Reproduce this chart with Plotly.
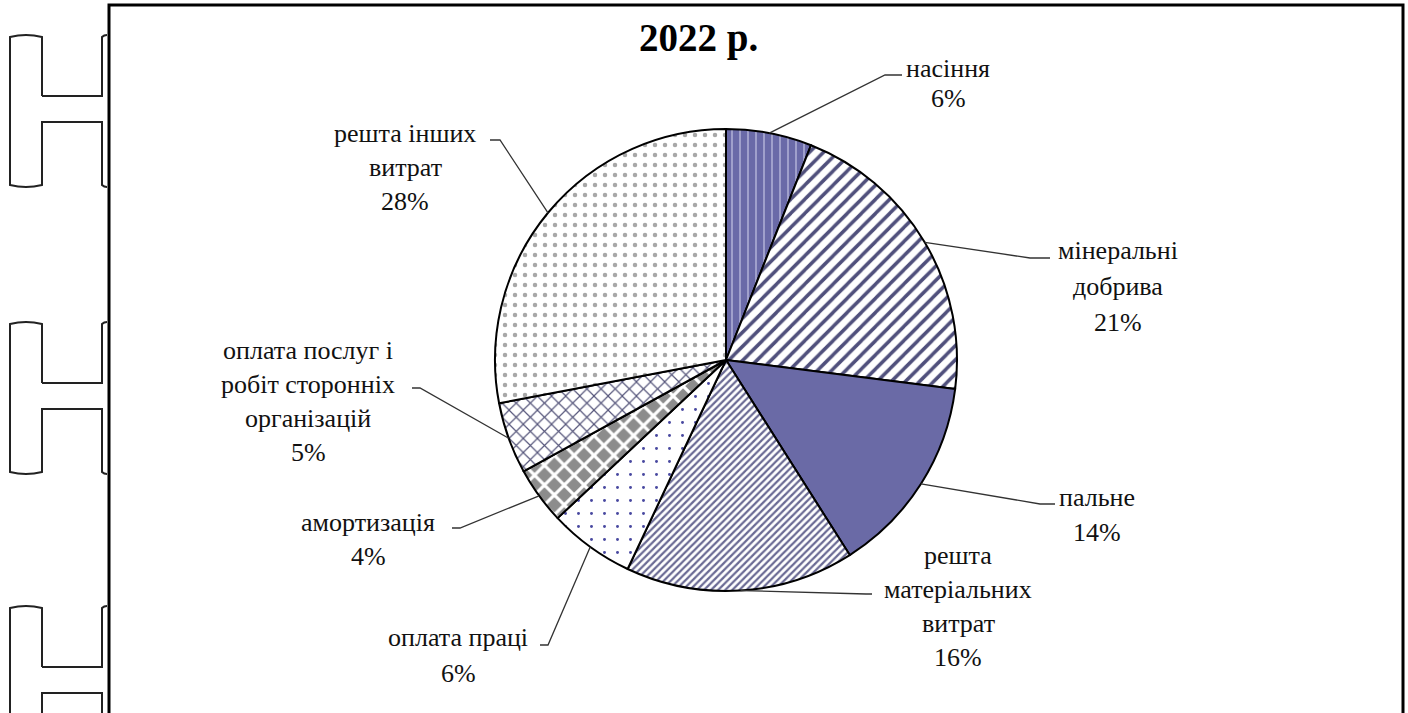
import math
import plotly.graph_objects as go

# ---- data ----
categories = ["насіння", "мінеральні добрива", "пальне", "решта матеріальних витрат",
              "оплата праці", "амортизація", "оплата послуг і робіт сторонніх організацій",
              "решта інших витрат"]
values = [6, 21, 14, 16, 6, 4, 5, 28]
label_lines = [
    ["насіння"],
    ["мінеральні", "добрива"],
    ["пальне"],
    ["решта", "матеріальних", "витрат"],
    ["оплата праці"],
    ["амортизація"],
    ["оплата послуг і", "робіт сторонніх", "організацій"],
    ["решта інших", "витрат"],
]
title_text = "2022 р."

# ---- styling / layout (pixel space) ----
W, H = 1408, 713
CX, CY, R = 726, 360, 231
FONT = "Liberation Serif"
LABEL_SIZE = 26

pat_shape = ["|", "/", "", "/", ".", "x", "x", "."]
pat_bg = ["#6a6aa8", "#ffffff", "#6a6aa6", "#ffffff", "#ffffff", "#8c8c8c", "#ffffff", "#ffffff"]
pat_fg = ["#c4c4e4", "#50507c", "#6a6aa6", "#6a6a94", "#4848a0", "#ffffff", "#55557a", "#a8a8a8"]
pat_size = [8, 10, 8, 5, 13, 14, 10, 10]
pat_sol = [0.15, 0.35, 0.3, 0.45, 0.04, 0.4, 0.22, 0.16]

# label placement: (center x, first line y, line spacing), leader elbow, leader end
label_pos = [
    (948, 68, 30),
    (1118, 250, 36),
    (1097, 497, 35),
    (958, 555, 34),
    (458, 637, 36),
    (368, 522, 34),
    (308, 350, 34),
    (405, 133, 34),
]
leader_pts = [
    ((885, 75), (902, 75)),
    ((1030, 258), (1050, 258)),
    ((1040, 504), (1055, 504)),
    ((866, 594), (872, 594)),
    ((548, 645), (540, 645)),
    ((460, 528), (452, 528)),
    ((420, 388), (412, 388)),
    ((500, 140), (490, 140)),
]

fig = go.Figure()
fig.add_trace(go.Pie(
    labels=categories, values=values, sort=False, direction="clockwise", rotation=0,
    textinfo="none", hoverinfo="label+percent",
    marker=dict(colors=pat_bg, line=dict(color="#000000", width=2),
                pattern=dict(shape=pat_shape, bgcolor=pat_bg, fgcolor=pat_fg,
                             size=pat_size, solidity=pat_sol, fillmode="replace")),
    domain=dict(x=[(CX - R) / W, (CX + R) / W], y=[1 - (CY + R) / H, 1 - (CY - R) / H]),
    showlegend=False,
))

shapes = []
annotations = []

# leader lines and labels
total = sum(values)
cum = 0
for i, v in enumerate(values):
    mid = (cum + v / 2) / total * 2 * math.pi
    cum += v
    ex = CX + R * math.sin(mid)
    ey = CY - R * math.cos(mid)
    (bx, by), (tx, ty) = leader_pts[i]
    shapes.append(dict(type="path", xref="x", yref="y",
                       path=f"M {ex:.1f},{ey:.1f} L {bx},{by} L {tx},{ty}",
                       line=dict(color="#333333", width=1.3)))
    lx, ly, sp = label_pos[i]
    lines = label_lines[i] + [f"{round(v / total * 100)}%"]
    for j, t in enumerate(lines):
        annotations.append(dict(x=lx, y=ly + j * sp, xref="x", yref="y", text=t,
                                showarrow=False,
                                font=dict(family=FONT, size=LABEL_SIZE, color="#111111"),
                                xanchor="center", yanchor="middle"))

annotations.append(dict(x=698, y=38, xref="x", yref="y", text=f"<b>{title_text}</b>",
                        showarrow=False, font=dict(family=FONT, size=39, color="#000000"),
                        xanchor="center", yanchor="middle"))

# frame
shapes.append(dict(type="path", xref="x", yref="y",
                   path="M 109,720 L 109,5 L 1403,5 L 1403,720",
                   line=dict(color="#000000", width=3)))

# binder marks on the left
for oy in (0, 287, 571):
    t, b1, b2, bt = 37 + oy, 96 + oy, 122 + oy, 185 + oy
    shapes.append(dict(type="path", xref="x", yref="y",
                       path=(f"M 42,{b1} L 42,{t} Q 26,{t - 4} 10,{t} L 10,{bt} "
                             f"Q 26,{bt + 4} 42,{bt} L 42,{b2} L 102,{b2} L 102,{bt} Q 104,{bt + 2} 107,{bt + 2}"),
                       line=dict(color="#222222", width=2)))
    shapes.append(dict(type="path", xref="x", yref="y",
                       path=f"M 42,{b1} L 102,{b1} L 102,{t} Q 104,{t - 2} 107,{t - 2}",
                       line=dict(color="#222222", width=2)))

fig.update_layout(
    width=W, height=H,
    margin=dict(l=0, r=0, t=0, b=0),
    paper_bgcolor="#ffffff", plot_bgcolor="rgba(0,0,0,0)",
    xaxis=dict(range=[0, W], visible=False, fixedrange=True, domain=[0, 1]),
    yaxis=dict(range=[H, 0], visible=False, fixedrange=True, domain=[0, 1]),
    shapes=shapes, annotations=annotations,
)

fig.write_html("out.html", config={"displayModeBar": False},
               post_script="document.body.style.margin='0';document.body.style.overflow='hidden';")
